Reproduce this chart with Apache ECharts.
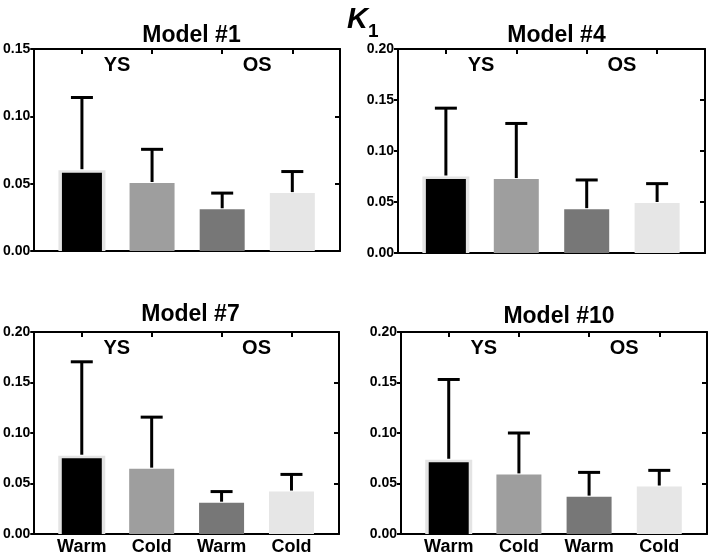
<!DOCTYPE html>
<html>
<head>
<meta charset="utf-8">
<script src="https://cdn.jsdelivr.net/npm/echarts@6/dist/echarts.min.js"></script>
<style>
html,body{margin:0;padding:0;background:#fff;}
#c{width:709px;height:556px;}
</style>
</head>
<body>
<div id="c"></div>
<script>
// ---- data ----
var categories = ['Warm', 'Cold', 'Warm', 'Cold'];
var groupLabels = ['YS', 'OS'];
var modelNames = ['Model #1', 'Model #4', 'Model #7', 'Model #10'];
var yMax = [0.15, 0.20, 0.20, 0.20];

var meanModel1 = [0.060, 0.0505, 0.031, 0.043];
var sdModel1   = [0.054, 0.025, 0.012, 0.016];
var meanModel4 = [0.075, 0.0725, 0.043, 0.049];
var sdModel4   = [0.067, 0.0545, 0.0286, 0.019];
var meanModel7 = [0.0775, 0.0647, 0.031, 0.042];
var sdModel7   = [0.093, 0.051, 0.011, 0.017];
var meanModel10 = [0.0735, 0.059, 0.037, 0.047];
var sdModel10   = [0.0795, 0.041, 0.024, 0.016];

var means = [meanModel1, meanModel4, meanModel7, meanModel10];
var sds = [sdModel1, sdModel4, sdModel7, sdModel10];

// ---- style ----
var barColors = ['#000000', '#9e9e9e', '#777777', '#e6e6e6'];
var FONT = 'Liberation Sans, Arial, sans-serif';
var grids = [
  {left: 33, width: 307, top: 49, height: 202},
  {left: 398, width: 307, top: 49, height: 204},
  {left: 32, width: 307, top: 332, height: 203},
  {left: 401, width: 306, top: 332, height: 204}
];
var showXLabels = [false, false, true, true];
var titleTops = [20, 20, 299, 301];

var chart = echarts.init(document.getElementById('c'), null, {renderer: 'canvas'});

var option = {
  backgroundColor: '#ffffff',
  animation: false,
  title: [{
    text: '{k|K}{s|1}',
    left: 342, top: 0,
    textStyle: {
      rich: {
        k: {fontFamily: FONT, fontSize: 29, fontWeight: 'bold', fontStyle: 'italic', color: '#000'},
        s: {fontFamily: FONT, fontSize: 19, fontWeight: 'bold', color: '#000', verticalAlign: 'bottom', padding: [0, 0, -7, 0]}
      }
    }
  }],
  grid: [], xAxis: [], yAxis: [], series: []
};

var xmin = -0.68, xmax = 3.68;

grids.forEach(function (g, i) {
  option.grid.push({left: g.left, width: g.width, top: g.top, height: g.height, containLabel: false});
  option.title.push({
    text: modelNames[i],
    left: g.left + g.width / 2, top: titleTops[i] - 1, textAlign: 'center',
    textStyle: {fontFamily: FONT, fontSize: 23, fontWeight: 'bold', color: '#000'}
  });
  var tickVals = [0, 1, 2, 3];
  // bottom x
  option.xAxis.push({
    gridIndex: i, type: 'value', position: 'bottom', min: xmin, max: xmax,
    splitLine: {show: false},
    axisLine: {show: true, onZero: false, lineStyle: {color: '#000', width: 2}},
    axisTick: {show: true, inside: true, length: 5, customValues: tickVals, lineStyle: {color: '#000', width: 2}},
    axisLabel: {
      show: showXLabels[i], customValues: tickVals, margin: 4,
      fontFamily: FONT, fontSize: 18, fontWeight: 'bold', color: '#000',
      formatter: function (v) { return categories[Math.round(v)]; }
    }
  });
  // top x
  option.xAxis.push({
    gridIndex: i, type: 'value', position: 'top', min: xmin, max: xmax,
    splitLine: {show: false},
    axisLine: {show: true, onZero: false, lineStyle: {color: '#000', width: 2}},
    axisTick: {show: true, inside: true, length: 5, customValues: tickVals, lineStyle: {color: '#000', width: 2}},
    axisLabel: {show: false}
  });
  // left y
  option.yAxis.push({
    gridIndex: i, type: 'value', position: 'left', min: 0, max: yMax[i], interval: 0.05,
    splitLine: {show: false},
    axisLine: {show: true, onZero: false, lineStyle: {color: '#000', width: 2}},
    axisTick: {show: true, inside: false, length: 4, lineStyle: {color: '#000', width: 2}},
    axisLabel: {
      margin: 4, fontFamily: FONT, fontSize: 14, fontWeight: 'bold', color: '#000',
      formatter: function (v) { return v.toFixed(2); }
    }
  });
  // right y
  option.yAxis.push({
    gridIndex: i, type: 'value', position: 'right', min: 0, max: yMax[i], interval: 0.05,
    splitLine: {show: false},
    axisLine: {show: true, onZero: false, lineStyle: {color: '#000', width: 2}},
    axisTick: {show: true, inside: true, length: 5, lineStyle: {color: '#000', width: 2}},
    axisLabel: {show: false}
  });

  // light halo behind first (black) bar
  option.series.push({
    type: 'bar', xAxisIndex: i * 2, yAxisIndex: i * 2, barWidth: 47, barGap: '-100%',
    data: means[i].map(function (m, j) { return j === 0 ? [j, m] : [j, null]; }),
    itemStyle: {color: '#e4e4e4'}, z: 1, silent: true
  });
  option.series.push({
    type: 'custom', xAxisIndex: i * 2, yAxisIndex: i * 2, z: 2,
    data: means[i].map(function (m, j) { return [j, m, j]; }),
    renderItem: function (params, api) {
      var j = api.value(2);
      var top = api.coord([api.value(0), api.value(1)]);
      var base = api.coord([api.value(0), 0]);
      var w = j === 0 ? 40 : 45;
      var inset = j === 0 ? 2.5 : 0;
      return {
        type: 'rect',
        shape: {x: top[0] - w / 2, y: top[1] + inset, width: w, height: base[1] - top[1] - inset},
        style: {fill: barColors[j]}
      };
    }
  });
  var errData = means[i].map(function (m, j) { return [j, m, m + sds[i][j]]; });
  option.series.push({
    type: 'custom', xAxisIndex: i * 2, yAxisIndex: i * 2, z: 3,
    data: errData,
    renderItem: function (params, api) {
      var x = api.value(0);
      var p0 = api.coord([x, api.value(1)]);
      var p1 = api.coord([x, api.value(2)]);
      var hw = 11;
      return {
        type: 'group',
        children: [
          {type: 'line', shape: {x1: p0[0], y1: p0[1] - 1, x2: p1[0], y2: p1[1]}, style: {stroke: '#000', lineWidth: 3}},
          {type: 'line', shape: {x1: p1[0] - hw, y1: p1[1], x2: p1[0] + hw, y2: p1[1]}, style: {stroke: '#000', lineWidth: 3}}
        ]
      };
    }
  });
  // group labels YS / OS
  option.series.push({
    type: 'scatter', xAxisIndex: i * 2, yAxisIndex: i * 2, symbolSize: 0, z: 4,
    itemStyle: {opacity: 1},
    data: [[0.5, yMax[i]], [2.5, yMax[i]]],
    label: {
      show: true, position: 'bottom', distance: 6,
      fontFamily: FONT, fontSize: 20, fontWeight: 'bold', color: '#000',
      formatter: function (p) { return groupLabels[p.dataIndex]; }
    },
    silent: true
  });
});

chart.setOption(option);
</script>
</body>
</html>
